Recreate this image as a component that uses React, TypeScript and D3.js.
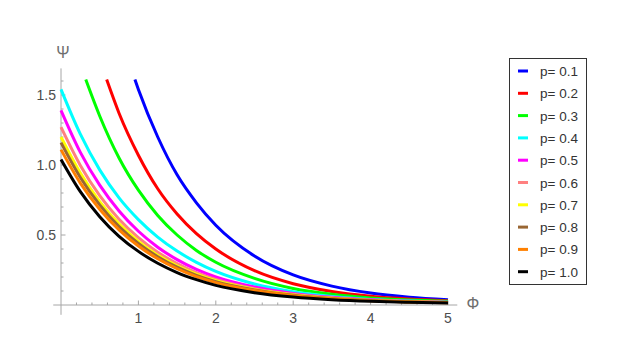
import React from "react";
import * as d3 from "d3";

// readings taken off the reference plot (phi, psi)
const phiGrid = [0, 0.25, 0.5, 0.75, 1, 1.25, 1.5, 1.75, 2, 2.5, 3, 3.5, 4, 4.5, 5];

const phiP01 = [0.955, 1, 1.25, 1.5, 1.75, 2, 2.5, 3, 3.5, 4, 4.5, 5];
const psiP01 = [1.61, 1.54, 1.2, 0.93, 0.73, 0.57, 0.35, 0.215, 0.135, 0.085, 0.056, 0.038];

const phiP02 = [0.59, 0.75, 1, 1.25, 1.5, 1.75, 2, 2.5, 3, 3.5, 4, 4.5, 5];
const psiP02 = [1.61, 1.37, 1.07, 0.83, 0.65, 0.51, 0.4, 0.245, 0.152, 0.097, 0.063, 0.043, 0.031];

const phiP03 = [0.32, 0.5, 0.75, 1, 1.25, 1.5, 1.75, 2, 2.5, 3, 3.5, 4, 4.5, 5];
const psiP03 = [1.61, 1.35, 1.05, 0.82, 0.64, 0.5, 0.39, 0.305, 0.19, 0.118, 0.076, 0.05, 0.035, 0.026];

const psiP04 = [1.54, 1.22, 0.965, 0.765, 0.61, 0.485, 0.385, 0.305, 0.24, 0.15, 0.095, 0.061, 0.04, 0.028, 0.02];
const psiP05 = [1.39, 1.09, 0.856, 0.672, 0.527, 0.413, 0.324, 0.254, 0.2, 0.128, 0.083, 0.055, 0.037, 0.026, 0.019];
const psiP06 = [1.27, 0.997, 0.782, 0.613, 0.481, 0.377, 0.296, 0.232, 0.183, 0.117, 0.076, 0.05, 0.034, 0.024, 0.018];
const psiP07 = [1.2, 0.942, 0.739, 0.58, 0.455, 0.356, 0.28, 0.22, 0.173, 0.111, 0.072, 0.048, 0.033, 0.023, 0.017];
const psiP08 = [1.16, 0.911, 0.715, 0.56, 0.44, 0.345, 0.27, 0.212, 0.167, 0.108, 0.07, 0.046, 0.032, 0.022, 0.017];
const psiP09 = [1.11, 0.871, 0.684, 0.536, 0.421, 0.33, 0.259, 0.203, 0.16, 0.103, 0.067, 0.045, 0.031, 0.022, 0.016];
const psiP10 = [1.04, 0.81, 0.631, 0.491, 0.383, 0.298, 0.232, 0.181, 0.14, 0.088, 0.057, 0.038, 0.026, 0.019, 0.014];

const pLabels = ["p= 0.1", "p= 0.2", "p= 0.3", "p= 0.4", "p= 0.5", "p= 0.6", "p= 0.7", "p= 0.8", "p= 0.9", "p= 1.0"];
const colors = ["#0000ff", "#ff0000", "#00ff00", "#00ffff", "#ff00ff", "#ff8080", "#ffff00", "#996633", "#ff8000", "#000000"];

const xTicks = [1, 2, 3, 4, 5];
const yTicks = [0.5, 1.0, 1.5];

const series = [
  { phi: phiP01, psi: psiP01 },
  { phi: phiP02, psi: psiP02 },
  { phi: phiP03, psi: psiP03 },
  { phi: phiGrid, psi: psiP04 },
  { phi: phiGrid, psi: psiP05 },
  { phi: phiGrid, psi: psiP06 },
  { phi: phiGrid, psi: psiP07 },
  { phi: phiGrid, psi: psiP08 },
  { phi: phiGrid, psi: psiP09 },
  { phi: phiGrid, psi: psiP10 },
];

export default function App() {
  const width = 629;
  const height = 340;
  const x = d3.scaleLinear().domain([0, 5]).range([61, 448]);
  const y = d3.scaleLinear().domain([0, 1.5]).range([305, 95]);

  const line = d3
    .line<[number, number]>()
    .x((d) => x(d[0]))
    .y((d) => y(d[1]))
    .curve(d3.curveMonotoneX);

  const axisColor = "#a6a6a6";
  const textColor = "#4d4d4d";
  const font = "'Liberation Sans', Arial, sans-serif";

  const xMinor = d3.range(0, 5.01, 0.2).filter((v) => Math.abs(v - Math.round(v)) > 0.01);
  const yMinor = d3.range(0.1, 1.65, 0.1).filter((v) => Math.abs(v * 2 - Math.round(v * 2)) > 0.01);

  return (
    <svg
      width={width}
      height={height}
      style={{ position: "absolute", left: 0, top: 0, background: "#fff" }}
      fontFamily={font}
    >
      {/* axes */}
      <line x1={x(-0.1)} x2={x(5.12)} y1={y(0)} y2={y(0)} stroke={axisColor} strokeWidth={1} />
      <line x1={x(0)} x2={x(0)} y1={y(-0.07)} y2={y(1.69)} stroke={axisColor} strokeWidth={1} />
      {xTicks.map((t) => (
        <g key={"xt" + t}>
          <line x1={x(t)} x2={x(t)} y1={y(0)} y2={y(0) - 4.5} stroke={axisColor} />
          <text x={x(t)} y={y(0) + 18} textAnchor="middle" fontSize={14} fill={textColor}>
            {t}
          </text>
        </g>
      ))}
      {xMinor.map((t) => (
        <line key={"xm" + t} x1={x(t)} x2={x(t)} y1={y(0)} y2={y(0) - 2.5} stroke={axisColor} />
      ))}
      {yTicks.map((t) => (
        <g key={"yt" + t}>
          <line x1={x(0)} x2={x(0) + 4.5} y1={y(t)} y2={y(t)} stroke={axisColor} />
          <text x={x(0) - 5} y={y(t) + 5} textAnchor="end" fontSize={14} fill={textColor}>
            {t.toFixed(1)}
          </text>
        </g>
      ))}
      {yMinor.map((t) => (
        <line key={"ym" + t} x1={x(0)} x2={x(0) + 2.5} y1={y(t)} y2={y(t)} stroke={axisColor} />
      ))}
      <text x={x(0) + 2} y={58} textAnchor="middle" fontSize={16} fill="#6e6e6e">
        Ψ
      </text>
      <text x={473} y={309} textAnchor="middle" fontSize={16} fill="#6e6e6e">
        Φ
      </text>

      {/* curves */}
      {series.map((s, i) => (
        <path
          key={"c" + i}
          d={line(s.phi.map((p, j) => [p, s.psi[j]] as [number, number])) || ""}
          fill="none"
          stroke={colors[i]}
          strokeWidth={3}
        />
      ))}

      {/* legend */}
      <rect x={509.5} y={58.5} width={77} height={226} fill="#fff" stroke="#333" strokeWidth={1} />
      {pLabels.map((lab, i) => {
        const cy = 71 + i * 22.3;
        return (
          <g key={"lg" + i}>
            <line x1={518} x2={528} y1={cy} y2={cy} stroke={colors[i]} strokeWidth={3} />
            <text x={540} y={cy + 5} fontSize={13.5} fill="#333">
              {lab}
            </text>
          </g>
        );
      })}
    </svg>
  );
}
